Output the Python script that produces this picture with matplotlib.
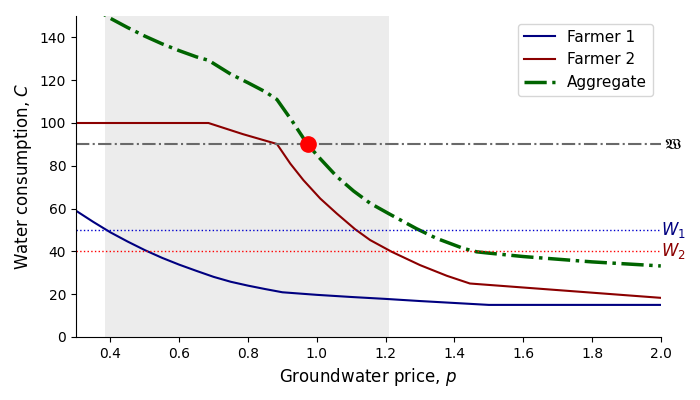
import matplotlib.pyplot as plt
import numpy as np

# price grids and read-off consumption values
p_f1 = [0.3, 0.35, 0.4, 0.45, 0.5, 0.55, 0.6, 0.65, 0.7, 0.75, 0.8, 0.85, 0.9,
        1.0, 1.1, 1.2, 1.3, 1.4, 1.5, 2.0]
w_f1 = [59, 53.8, 48.9, 44.6, 40.6, 37, 33.8, 30.9, 28.1, 25.8, 24, 22.4, 20.9,
        19.7, 18.7, 17.8, 16.8, 15.9, 15, 15]

p_f2 = [0.3, 0.685, 0.785, 0.884, 0.923, 0.961, 1.01, 1.058, 1.111, 1.155,
        1.218, 1.3, 1.378, 1.445, 2.0]
w_f2 = [100, 100, 94.8, 90.2, 81, 73.3, 64.7, 57.7, 50.4, 45.3,
        39.8, 33.6, 28.6, 25, 18.3]

p_agg = [0.3, 0.35, 0.4, 0.45, 0.5, 0.55, 0.6, 0.65, 0.685, 0.75, 0.8, 0.85,
         0.884, 0.93, 0.973, 1.01, 1.058, 1.107, 1.155, 1.213, 1.29, 1.348,
         1.426, 1.465, 1.5, 1.6, 1.8, 2.0]
w_agg = [159, 153.8, 148.9, 144.6, 140.6, 137, 133.8, 130.9, 129.3, 122.8, 118.8, 114.6,
         111, 100.5, 90, 83.3, 75.0, 68.2, 62.5, 57.3, 50.6, 46.1,
         41.4, 39.8, 39.2, 37.6, 35.1, 33.2]

W_bar = 90
W1 = 50
W2 = 40
eq_price = 0.973
shade = (0.385, 1.21)

fig = plt.figure(figsize=(7, 4), dpi=100)
ax = fig.add_axes([0.1086, 0.1575, 0.8354, 0.8025])

ax.axvspan(shade[0], shade[1], color='gray', alpha=0.15, lw=0)

ax.plot(p_f1, w_f1, color='navy', lw=1.5, label='Farmer 1')
ax.plot(p_f2, w_f2, color='darkred', lw=1.5, label='Farmer 2')
ax.plot(p_agg, w_agg, color='darkgreen', lw=2.5, ls='-.', label='Aggregate')

ax.axhline(W_bar, color='dimgray', lw=1.5, ls='-.')
ax.axhline(W1, color='mediumblue', lw=1, ls=':')
ax.axhline(W2, color='red', lw=1, ls=':')

ax.plot([eq_price], [W_bar], 'o', color='red', markersize=11, zorder=5)

ax.text(2.01, W_bar, r'$\mathfrak{W}$', color='black', fontsize=11, va='center', ha='left')
ax.text(2.0, W1, r'$W_1$', color='navy', fontsize=12, va='center', ha='left')
ax.text(2.0, W2, r'$W_2$', color='darkred', fontsize=12, va='center', ha='left')

ax.set_xlim(0.3, 2.0)
ax.set_ylim(0, 150)
ax.set_xticks(np.arange(0.4, 2.01, 0.2))
ax.set_yticks(np.arange(0, 141, 20))
ax.set_xlabel('Groundwater price, $p$', fontsize=12)
ax.set_ylabel('Water consumption, $C$', fontsize=12)
ax.spines['top'].set_visible(False)
ax.spines['right'].set_visible(False)
ax.tick_params(labelsize=10)

ax.legend(loc='upper right', fontsize=11)

fig.savefig('out.png', dpi=100)
